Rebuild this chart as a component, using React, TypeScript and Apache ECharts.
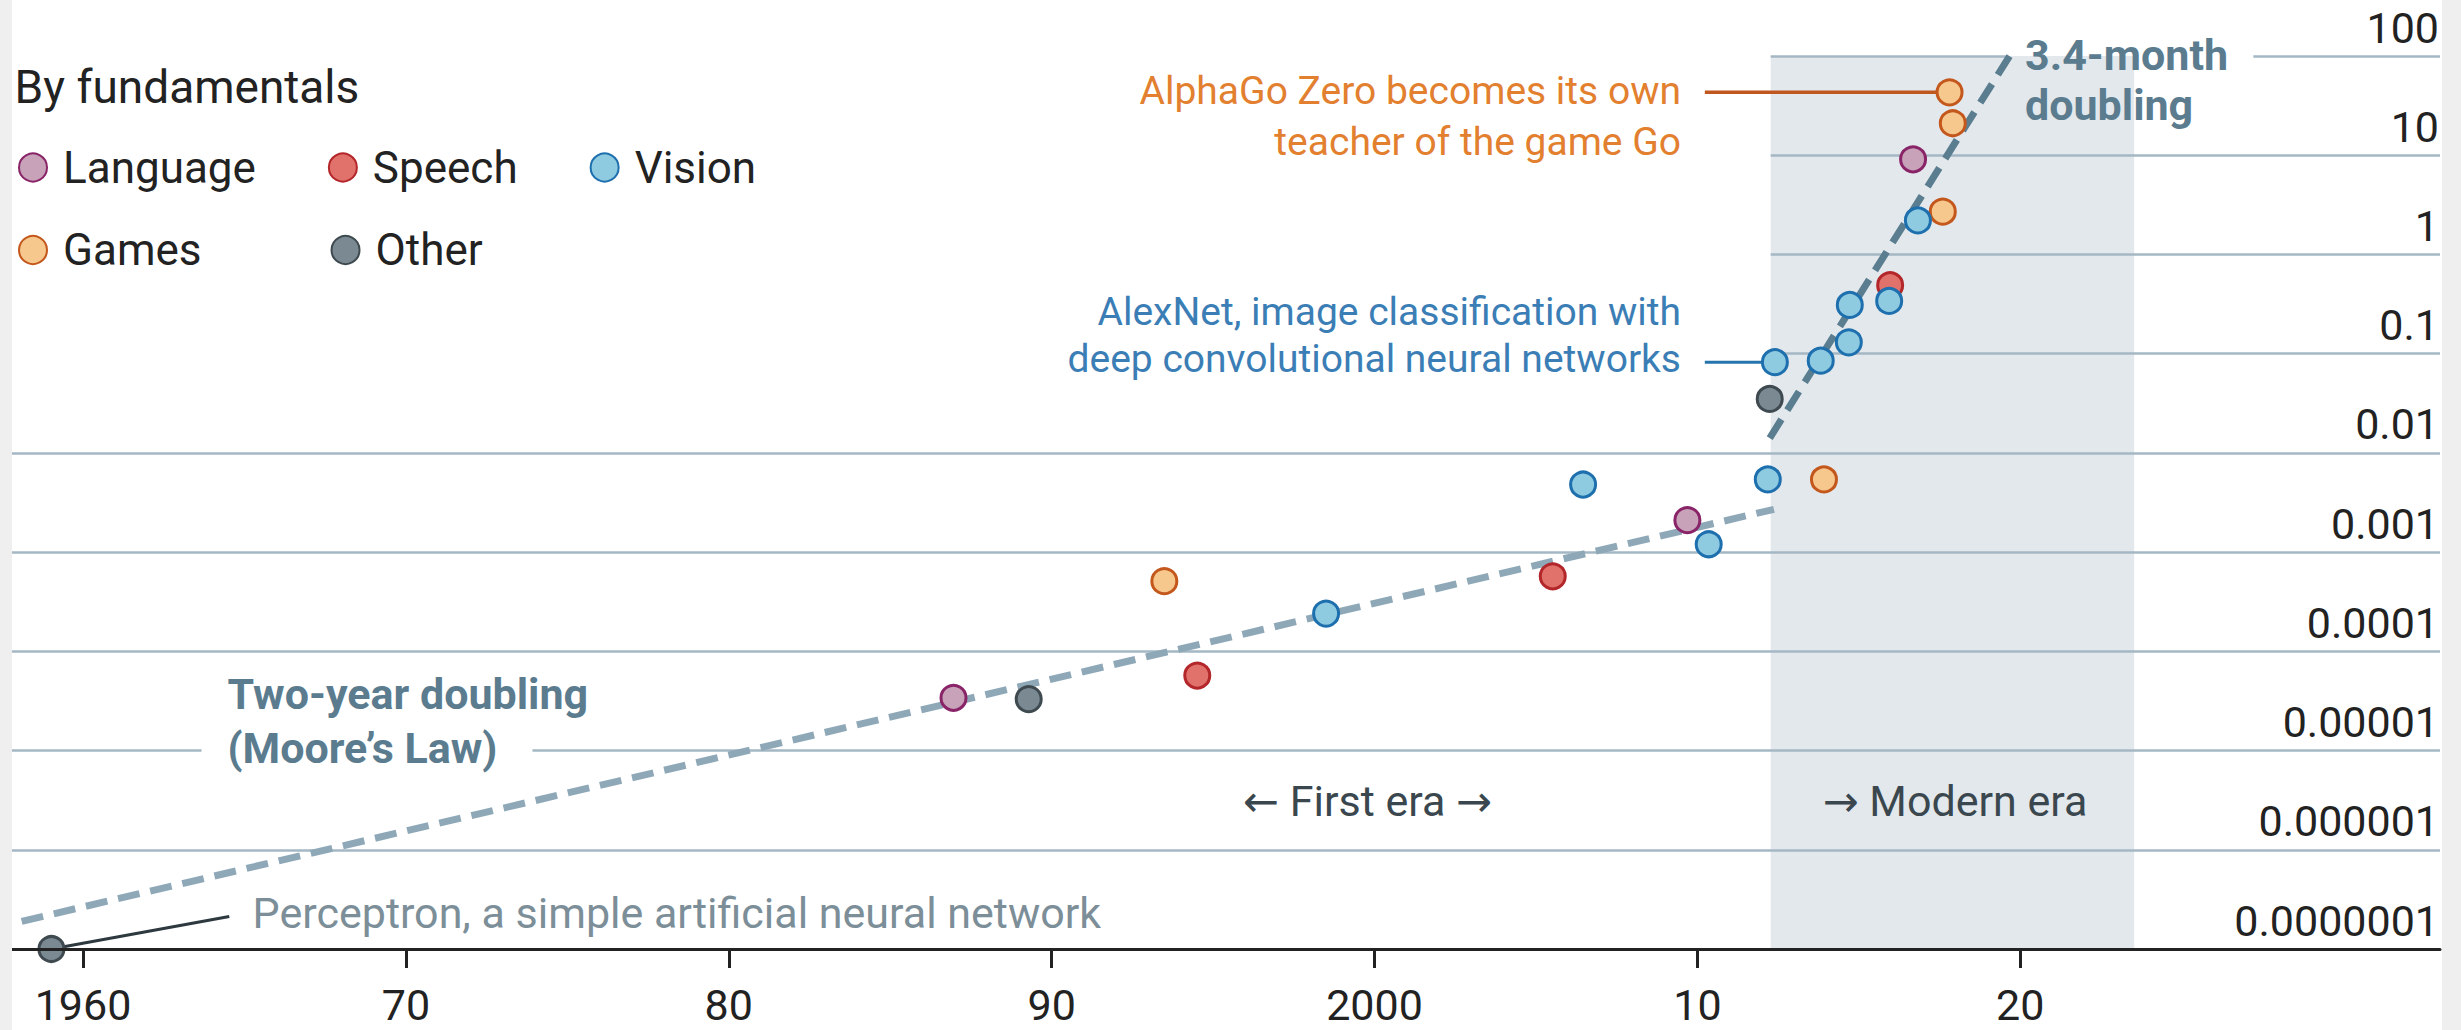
import React, { useEffect, useRef } from "react";
import * as echarts from "echarts";

const FONT = "Roboto, 'Noto Sans', 'DejaVu Sans', sans-serif";

// ---------- data ----------
const categories = ["Language", "Speech", "Vision", "Games", "Other"];

const languagePoints = [
  [1986.96, 3.4e-5],
  [2009.69, 2.1e-3],
  [2016.68, 9.1],
];
const speechPoints = [
  [1994.51, 5.7e-5],
  [2005.52, 5.7e-4],
  [2015.97, 0.49],
];
const visionPoints = [
  [1998.5, 2.4e-4],
  [2006.46, 4.8e-3],
  [2010.35, 1.2e-3],
  [2012.18, 5.4e-3],
  [2012.4, 0.082],
  [2013.82, 0.085],
  [2014.69, 0.13],
  [2014.72, 0.31],
  [2015.94, 0.34],
  [2016.83, 2.2],
];
const gamesPoints = [
  [1993.49, 5.1e-4],
  [2013.92, 5.4e-3],
  [2017.6, 2.7],
  [2017.91, 21],
  [2017.81, 43],
];
const otherPoints = [
  [1959.02, 1e-7],
  [1989.29, 3.3e-5],
  [2012.24, 0.035],
];

const mooreTrend = [
  [1958.1, 1.9e-7],
  [2012.37, 2.7e-3],
];
const modernTrend = [
  [2012.24, 0.0141],
  [2019.67, 100],
];
const modernEraSpan = [2012.27, 2023.53];

const alphaGoZero = [2017.81, 43];
const alexNet = [2012.4, 0.082];
const perceptron = [1959.02, 1e-7];
const perceptronLeaderEnd = [1964.53, 2.13e-7];
const leaderStartYear = 2010.23;

const xTickValues = [1960, 1970, 1980, 1990, 2000, 2010, 2020];
const xTickLabels = ["1960", "70", "80", "90", "2000", "10", "20"];
const yTickValues = [1e-7, 1e-6, 1e-5, 1e-4, 1e-3, 0.01, 0.1, 1, 10, 100];
const yTickLabels = [
  "0.0000001",
  "0.000001",
  "0.00001",
  "0.0001",
  "0.001",
  "0.01",
  "0.1",
  "1",
  "10",
  "100",
];

// ---------- layout / style ----------
const X_MIN = 1957.8;
const X_MAX = 2033;
const OX = 12; // chart div offset on page

const colors: Record<string, { fill: string; stroke: string }> = {
  Language: { fill: "#c7a2b8", stroke: "#8a2468" },
  Speech: { fill: "#e1716b", stroke: "#b3262a" },
  Vision: { fill: "#8ecae0", stroke: "#1e6fae" },
  Games: { fill: "#f7c88e", stroke: "#c4581c" },
  Other: { fill: "#7b8a92", stroke: "#3e4a50" },
};
const seriesData: Record<string, number[][]> = {
  Language: languagePoints,
  Speech: speechPoints,
  Vision: visionPoints,
  Games: gamesPoints,
  Other: otherPoints,
};
const drawOrder = ["Other", "Speech", "Language", "Games", "Vision"];

const GRID_COLOR = "#a4b7c4";

function gridSegments(): any[] {
  const segs: any[] = [];
  const push = (v: number, a: number, b: number) =>
    segs.push([{ coord: [a, v] }, { coord: [b, v] }]);
  yTickValues.forEach((v) => {
    if (v <= 1e-7) return;
    if (v >= 100) {
      push(v, modernEraSpan[0], 2019.55);
      push(v, 2027.22, X_MAX);
    } else if (v >= 0.1) {
      push(v, modernEraSpan[0], X_MAX);
    } else if (Math.abs(Math.log10(v) + 5) < 0.01) {
      push(v, X_MIN, 1963.67);
      push(v, 1973.92, X_MAX);
    } else {
      push(v, X_MIN, X_MAX);
    }
  });
  return segs;
}

function txt(
  text: string,
  x: number,
  y: number,
  opts: {
    fill: string;
    size: number;
    align?: string;
    weight?: string;
    lineHeight?: number;
  }
) {
  return {
    type: "text",
    x: x - OX,
    y,
    z: 10,
    silent: true,
    style: {
      text,
      fill: opts.fill,
      fontSize: opts.size,
      fontFamily: FONT,
      fontWeight: opts.weight || "normal",
      align: opts.align || "left",
      verticalAlign: "middle",
      lineHeight: opts.lineHeight || opts.size * 1.2,
    },
  };
}

function buildOption(): any {
  const scatterSeries = drawOrder.map((name) => ({
    name,
    type: "scatter",
    data: seriesData[name],
    symbol: "circle",
    symbolSize: 25,
    z: 6,
    itemStyle: {
      color: colors[name].fill,
      borderColor: colors[name].stroke,
      borderWidth: 3,
      opacity: 1,
    },
    emphasis: { disabled: true },
  }));

  const legendCommon = {
    icon: "circle",
    itemWidth: 28,
    itemHeight: 28,
    selectedMode: false,
    orient: "horizontal",
    padding: 0,
    textStyle: {
      fontSize: 44,
      color: "#222",
      fontFamily: FONT,
      padding: [0, 0, 0, 11],
    },
  };

  return {
    animation: false,
    backgroundColor: "#ffffff",
    textStyle: { fontFamily: FONT },
    title: {
      text: "By fundamentals",
      left: 2.6,
      top: 64,
      padding: 0,
      textStyle: {
        fontSize: 46,
        fontWeight: "normal",
        color: "#222",
        fontFamily: FONT,
      },
    },
    legend: [
      {
        ...legendCommon,
        data: ["Language", "Speech", "Vision"],
        left: 6,
        top: 145.5,
        itemGap: 72,
      },
      {
        ...legendCommon,
        data: ["Games", "Other"],
        left: 6,
        top: 228,
        itemGap: 129,
      },
    ],
    grid: { left: 0, right: 1, top: 56, bottom: 81, containLabel: false },
    xAxis: {
      type: "value",
      min: X_MIN,
      max: X_MAX,
      z: 8,
      axisLine: { show: true, lineStyle: { color: "#222", width: 3 } },
      axisTick: {
        show: true,
        customValues: xTickValues,
        length: 19,
        lineStyle: { color: "#222", width: 3 },
      },
      axisLabel: {
        customValues: xTickValues,
        formatter: (v: number) => {
          const i = xTickValues.indexOf(Math.round(v));
          return i >= 0 ? xTickLabels[i] : "";
        },
        fontSize: 43,
        color: "#222",
        fontFamily: FONT,
        margin: 34,
      },
      splitLine: { show: false },
    },
    yAxis: {
      type: "log",
      logBase: 10,
      min: 1e-7,
      max: 100,
      position: "right",
      axisLine: { show: false },
      axisTick: { show: false },
      splitLine: { show: false },
      axisLabel: {
        inside: true,
        customValues: yTickValues,
        formatter: (v: number) => {
          const i = Math.round(Math.log10(v)) + 7;
          return yTickLabels[i] ?? "";
        },
        fontSize: 43,
        color: "#222",
        fontFamily: FONT,
        margin: 1,
        verticalAlign: "bottom",
        padding: [0, 0, 7, 0],
      },
    },
    series: [
      {
        name: "_shade",
        type: "line",
        data: [],
        z: 1,
        silent: true,
        markArea: {
          silent: true,
          z: 1,
          itemStyle: { color: "#e3e8ec" },
          data: [
            [
              { coord: [modernEraSpan[0], 1e-7] },
              { coord: [modernEraSpan[1], 100] },
            ],
          ],
        },
      },
      {
        name: "_grid",
        type: "line",
        data: [],
        z: 2,
        silent: true,
        markLine: {
          silent: true,
          z: 2,
          symbol: ["none", "none"],
          label: { show: false },
          lineStyle: { color: GRID_COLOR, width: 2.5, type: "solid" },
          emphasis: { disabled: true },
          data: gridSegments(),
        },
      },
      {
        name: "_moore",
        type: "line",
        data: mooreTrend,
        z: 3,
        silent: true,
        showSymbol: false,
        symbol: "none",
        lineStyle: { color: "#8ea8b8", width: 7, type: [22, 11] },
      },
      {
        name: "_modern",
        type: "line",
        data: modernTrend,
        z: 3,
        silent: true,
        showSymbol: false,
        symbol: "none",
        lineStyle: { color: "#5a7d90", width: 7, type: [22, 11] },
      },
      {
        name: "_alphaLeader",
        type: "line",
        data: [[leaderStartYear, alphaGoZero[1]], alphaGoZero],
        z: 4,
        silent: true,
        symbol: "none",
        lineStyle: { color: "#c0571f", width: 3.5 },
      },
      {
        name: "_alexLeader",
        type: "line",
        data: [[leaderStartYear, alexNet[1]], alexNet],
        z: 4,
        silent: true,
        symbol: "none",
        lineStyle: { color: "#2574ad", width: 3 },
      },
      {
        name: "_perceptronLeader",
        type: "line",
        data: [perceptron, perceptronLeaderEnd],
        z: 4,
        silent: true,
        symbol: "none",
        lineStyle: { color: "#2d383f", width: 3 },
      },
      ...scatterSeries,
    ],
    graphic: [
      txt("AlphaGo Zero becomes its own\nteacher of the game Go", 1681, 116.8, {
        fill: "#e2802f",
        size: 39,
        align: "right",
        lineHeight: 51,
      }),
      txt(
        "AlexNet, image classification with\ndeep convolutional neural networks",
        1681,
        335,
        { fill: "#3b7eb6", size: 39, align: "right", lineHeight: 47 }
      ),
      txt("3.4-month\ndoubling", 2025, 80, {
        fill: "#5b7c8f",
        size: 43,
        weight: "bold",
        lineHeight: 50,
      }),
      txt("Two-year doubling\n(Moore’s Law)", 227.5, 721, {
        fill: "#5b7c8f",
        size: 43,
        weight: "bold",
        lineHeight: 54,
      }),
      txt("Perceptron, a simple artificial neural network", 252.6, 912.5, {
        fill: "#7c8e98",
        size: 43,
      }),
      txt("← First era →", 1367.5, 800.8, {
        fill: "#3b474e",
        size: 43,
        align: "center",
      }),
      txt("→ Modern era", 1955, 801, {
        fill: "#3b474e",
        size: 43,
        align: "center",
      }),
    ],
  };
}

export default function App() {
  const ref = useRef<HTMLDivElement>(null);
  useEffect(() => {
    if (!ref.current) return;
    const chart = echarts.init(ref.current, null, { renderer: "svg" });
    chart.setOption(buildOption());
    return () => chart.dispose();
  }, []);
  return (
    <div
      style={{
        position: "fixed",
        left: 0,
        top: 0,
        width: 2461,
        height: 1030,
        background: "#efefef",
      }}
    >
      <div
        ref={ref}
        style={{
          position: "absolute",
          left: OX,
          top: 0,
          width: 2430,
          height: 1030,
          background: "#ffffff",
        }}
      />
    </div>
  );
}
